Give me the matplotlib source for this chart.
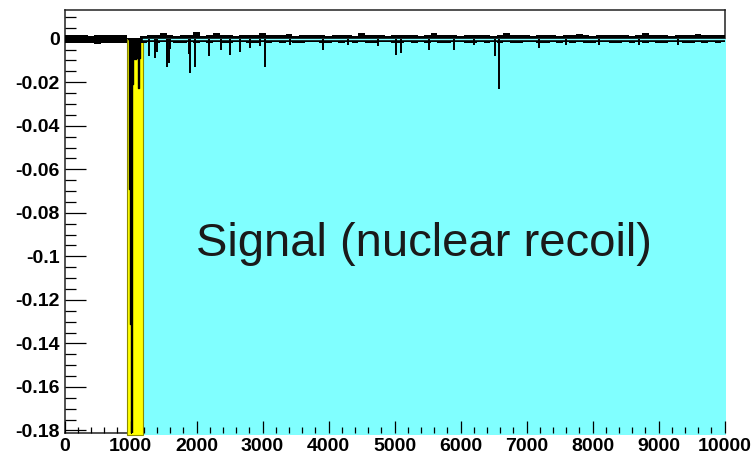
import numpy as np
import matplotlib.pyplot as plt
from matplotlib.patches import Rectangle
from matplotlib.ticker import MultipleLocator

plt.rcParams['font.family'] = ['Liberation Sans', 'DejaVu Sans']

# baseline noise envelope, one value every 100 ns (in units of 1e-4)
band_t = np.arange(0, 10001, 100)
band_hi = [16, 18, 15, 17, 14, 18, 16, 15, 19, 17,
           3, 3,
           14, 17, 15, 26, 16, 13, 17, 15, 30, 14,
           16, 25, 15, 17, 13, 16, 18, 15, 24, 17,
           16, 15, 23, 14, 17, 15, 16, 18, 13, 15,
           17, 16, 14, 25, 15, 17, 16, 14, 18, 15,
           16, 17, 14, 15, 24, 16, 18, 15, 14, 17,
           16, 15, 17, 14, 16, 26, 15, 17, 16, 14,
           15, 18, 16, 14, 17, 15, 23, 16, 14, 17,
           15, 18, 16, 15, 14, 17, 25, 15, 16, 18,
           14, 17, 15, 16, 23, 17, 15, 16, 18]
band_lo = [-20, -22, -18, -21, -19, -23, -20, -19, -22, -18,
           -3, -3,
           -18, -16, -20, -17, -15, -19, -18, -16, -21, -17,
           -19, -16, -18, -22, -17, -15, -19, -18, -16, -20,
           -17, -19, -16, -18, -21, -17, -15, -19, -18, -16,
           -20, -17, -19, -16, -18, -22, -17, -15, -19, -18,
           -16, -20, -17, -19, -16, -18, -21, -17, -15, -19,
           -18, -16, -20, -17, -19, -16, -18, -22, -17, -15,
           -19, -18, -16, -20, -17, -19, -16, -18, -21, -17,
           -15, -19, -18, -16, -20, -17, -19, -16, -18, -22,
           -17, -15, -19, -18, -16, -20, -17, -19, -16]

# main pulse inside the yellow window
pulse_t = [955, 975, 990, 1003, 1012, 1022, 1033, 1048, 1063, 1078, 1093, 1106, 1118, 1132, 1145]
pulse_v = [0.0, 0.0, -0.069, -0.131, -0.190, -0.004, -0.021, -0.0095, -0.009,
           -0.0095, -0.0085, -0.009, -0.0225, -0.009, -0.002]

# single photoelectron spikes after the pulse
spike_t = [1277, 1364, 1400, 1545, 1560, 1580, 1600, 1880, 1894, 1970,
           2187, 2374, 2500, 2652, 2803, 2955, 3030, 3420, 3914, 4300,
           4750, 5025, 5101, 5515, 5894, 6200, 6515, 6581, 7187, 7600,
           8100, 8700, 9300]
spike_v = [-0.0080, -0.0089, -0.0060, -0.0100, -0.0128, -0.0110, -0.0045, -0.0070, -0.0157, -0.0130,
           -0.0080, -0.0051, -0.0075, -0.0062, -0.0041, -0.0035, -0.0132, -0.0030, -0.0051, -0.0030,
           -0.0032, -0.0074, -0.0066, -0.0051, -0.0051, -0.0030, -0.0079, -0.0230, -0.0042, -0.0030,
           -0.0028, -0.0030, -0.0028]

# integration windows
prompt_win = (942, 1185)
late_win = (1185, 10023)

x_ticks = [0, 1000, 2000, 3000, 4000, 5000, 6000, 7000, 8000, 9000, 10000]
x_labels = ['0', '1000', '2000', '3000', '4000', '5000', '6000', '7000', '8000', '9000', '10000']
y_ticks = [0, -0.02, -0.04, -0.06, -0.08, -0.1, -0.12, -0.14, -0.16, -0.18]
y_labels = ['0', '-0.02', '-0.04', '-0.06', '-0.08', '-0.1', '-0.12', '-0.14', '-0.16', '-0.18']

ymin, ymax = -0.1813, 0.0132

fig = plt.figure(figsize=(7.53, 4.62), dpi=100)
ax = fig.add_axes([0.0857, 0.0621, 0.8765, 0.9163])
ax.set_xlim(0, 10000)
ax.set_ylim(ymin, ymax)

# coloured windows (drawn over the frame, under the trace)
ax.add_patch(Rectangle((late_win[0], ymin - 0.0008), late_win[1] - late_win[0], -ymin + 0.0008,
                       facecolor='#80ffff', edgecolor='none', clip_on=False, zorder=1))
ax.add_patch(Rectangle((prompt_win[0], ymin - 0.0008), prompt_win[1] - prompt_win[0], -ymin + 0.0008,
                       facecolor='#ffff00', edgecolor='#8c8c00', linewidth=0.8, clip_on=False, zorder=1.1))

# waveform
ax.fill_between(band_t, np.array(band_lo) * 1e-4, np.array(band_hi) * 1e-4,
                step='mid', color='black', linewidth=0, zorder=2)
ax.plot([late_win[0], 10000], [0, 0], color='#80ffff', lw=1.0, zorder=2.2)
ax.vlines(spike_t, spike_v, 0, color='black', lw=1.4, zorder=2.5)
ax.fill_between(pulse_t, pulse_v, 0, step='mid', color='black', linewidth=0, zorder=2.5)
ax.step(pulse_t, pulse_v, where='mid', color='black', lw=1.0, zorder=2.6)

ax.text(5447, -0.0942, 'Signal (nuclear recoil)', fontsize=34, color='#1a1a1a',
        ha='center', va='center', zorder=3)

# ROOT style frame and ticks
for sp in ax.spines.values():
    sp.set_zorder(0.5)
    sp.set_linewidth(1.1)
    sp.set_color('#222222')

ax.set_xticks(x_ticks, x_labels, fontsize=14, fontweight='bold')
ax.set_yticks(y_ticks, y_labels, fontsize=14, fontweight='bold')
ax.xaxis.set_minor_locator(MultipleLocator(200))
ax.yaxis.set_minor_locator(MultipleLocator(0.005))
ax.tick_params(which='both', direction='in', top=False, right=False, width=0.9, color='black')
ax.tick_params(axis='x', which='major', length=8.6, pad=3.5)
ax.tick_params(axis='x', which='minor', length=4)
ax.tick_params(axis='y', which='major', length=15, pad=3.5)
ax.tick_params(axis='y', which='minor', length=8)

fig.savefig('out.png', dpi=100)
